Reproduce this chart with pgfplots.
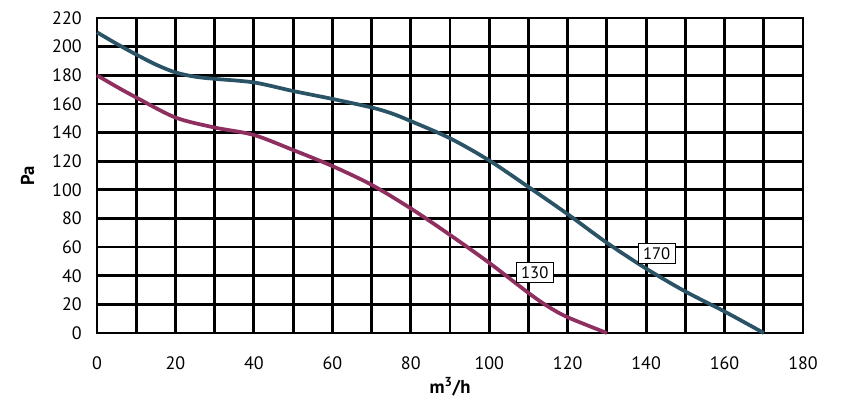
\documentclass[border=0pt]{standalone}
\usepackage{pgfplots}
\pgfplotsset{compat=1.18}
\usepackage{fontspec}
\setmainfont{PT Sans}
\definecolor{cblue}{HTML}{2B5366}
\definecolor{cpurp}{HTML}{8E2F5F}
\begin{document}
\begin{tikzpicture}[x=0.75pt,y=0.75pt]
\path[use as bounding box] (-97,-82) rectangle (757,333);
\begin{axis}[
  at={(0,0)}, anchor=south west,
  scale only axis,
  width=529.5pt, height=236.25pt,
  xmin=0, xmax=180, ymin=0, ymax=220,
  xtick={0,20,...,180},
  minor xtick={10,30,...,170},
  ytick={0,20,...,220},
  grid=both,
  major grid style={black, line width=2.1pt},
  minor grid style={black, line width=2.1pt},
  axis line style={black, line width=2.1pt},
  major tick length=0pt, minor tick length=0pt,
  tick label style={font=\fontsize{13.5}{15}\selectfont},
  /pgf/number format/assume math mode=true,
  xticklabel style={yshift=-14pt},
  yticklabel style={xshift=-8pt},
  clip=false,
]
\addplot[cblue, line width=2.8pt, smooth, tension=0.5] coordinates {
(0,210) (5,202) (10,194.5) (15,187.5) (20,182) (25,179) (30,177.5) (40,175) (50,169) (60,163.5) (70,157.5) (75,153.5) (80,148) (90,136) (100,120.5) (110,102) (120,83) (130,63) (140,45) (150,29) (160,15) (170,0)
};
\addplot[cpurp, line width=2.8pt, smooth, tension=0.5] coordinates {
(0,180) (5,172) (10,164.5) (20,150.5) (30,143.5) (40,138.3) (50,127.8) (60,116.6) (70,103.5) (80,87) (90,68.5) (100,49) (110,28) (115,18.5) (120,11) (130,0)
};
\node[draw=black, line width=0.7pt, fill=white, inner xsep=3.5pt, inner ysep=3pt, font=\fontsize{12.5}{14}\selectfont] at (axis cs:111.6,42.2) {130};
\node[draw=black, line width=0.7pt, fill=white, inner xsep=3.5pt, inner ysep=3pt, font=\fontsize{12.5}{14}\selectfont] at (axis cs:142.7,55.4) {170};
\node[font=\fontsize{14}{16}\selectfont\bfseries, anchor=center] at ([yshift=-40pt]axis description cs:0.5,0) {m\textsuperscript{3}/h};
\node[font=\fontsize{14}{16}\selectfont\bfseries, anchor=center, rotate=90] at ([xshift=-52pt]axis description cs:0,0.5) {Pa};
\end{axis}
\end{tikzpicture}
\end{document}
